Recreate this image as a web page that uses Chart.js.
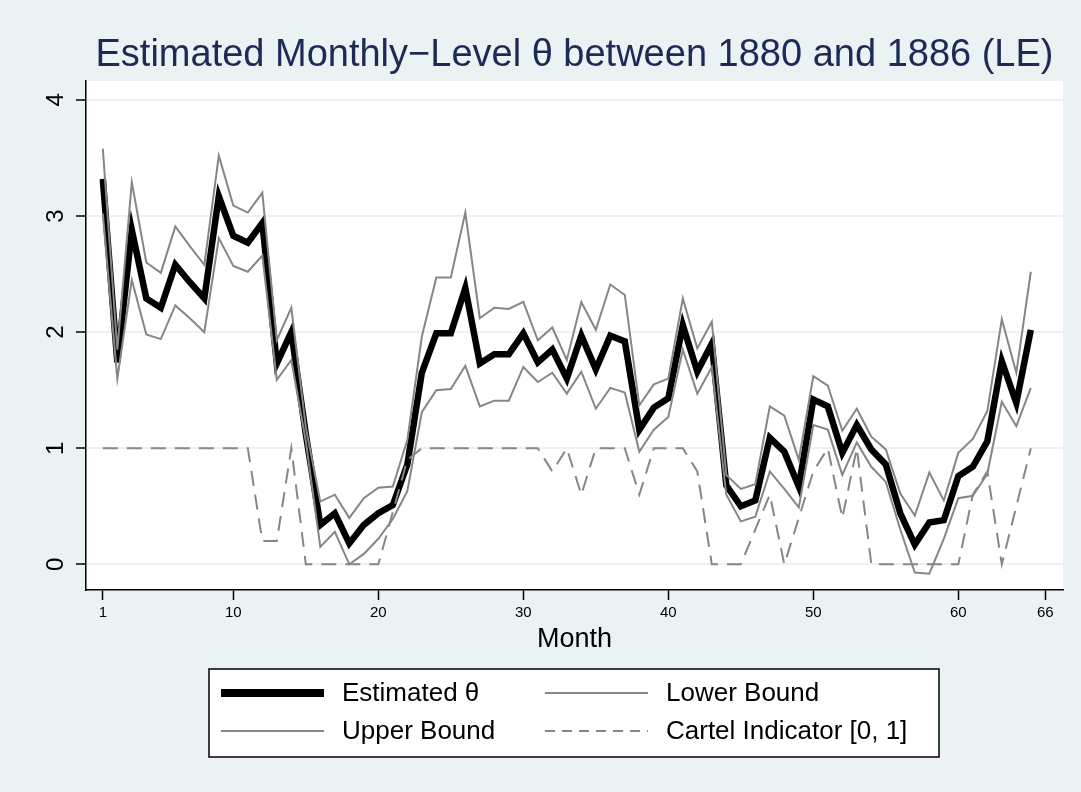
<!DOCTYPE html>
<html>
<head>
<meta charset="utf-8">
<script src="https://cdn.jsdelivr.net/npm/chart.js@4.4.1/dist/chart.umd.min.js"></script>
<style>
  html, body { margin: 0; padding: 0; background: #eaf2f3; }
  #wrap { width: 1081px; height: 792px; }
</style>
</head>
<body>
<div id="wrap"><canvas id="chart" width="1081" height="792"></canvas></div>
<script>
// MONTHS (x categories)
const months = [
  1, 2, 3, 4, 5, 6, 7, 8, 9, 10, 11, 12, 13, 14, 15, 16, 17, 18, 19, 20,
  21, 22, 23, 24, 25, 26, 27, 28, 29, 30, 31, 32, 33, 34, 35, 36, 37, 38, 39, 40,
  41, 42, 43, 44, 45, 46, 47, 48, 49, 50, 51, 52, 53, 54, 55, 56, 57, 58, 59, 60,
  61, 62, 63, 64, 65,
];

// SERIES
const estTheta = [
  3.32, 1.74, 2.88, 2.29, 2.21, 2.58, 2.43, 2.29, 3.17, 2.83, 2.77, 2.94, 1.73, 2.0, 1.12, 0.34, 0.44, 0.18, 0.34, 0.44,
  0.51, 0.86, 1.65, 1.99, 1.99, 2.38, 1.73, 1.81, 1.81, 1.99, 1.74, 1.85, 1.6, 1.97, 1.68, 1.97, 1.92, 1.16, 1.35, 1.43,
  2.06, 1.66, 1.9, 0.68, 0.5, 0.55, 1.09, 0.97, 0.67, 1.42, 1.36, 0.96, 1.2, 0.99, 0.86, 0.44, 0.17, 0.36, 0.38, 0.76,
  0.84, 1.06, 1.75, 1.39, 2.02,
];
const lowerBound = [
  3.02, 1.6, 2.45, 1.98, 1.94, 2.23, 2.12, 2.0, 2.81, 2.57, 2.52, 2.66, 1.59, 1.76, 1.06, 0.15, 0.28, 0.0, 0.09, 0.22,
  0.39, 0.63, 1.31, 1.5, 1.51, 1.71, 1.36, 1.41, 1.41, 1.7, 1.57, 1.65, 1.47, 1.66, 1.34, 1.52, 1.48, 0.97, 1.16, 1.27,
  1.85, 1.47, 1.7, 0.6, 0.37, 0.41, 0.8, 0.65, 0.49, 1.2, 1.16, 0.77, 1.05, 0.84, 0.71, 0.3, -0.07, -0.08, 0.22, 0.57,
  0.59, 0.78, 1.4, 1.19, 1.52,
];
const upperBound = [
  3.58, 1.85, 3.29, 2.6, 2.51, 2.91, 2.74, 2.58, 3.52, 3.09, 3.03, 3.2, 1.93, 2.21, 1.18, 0.54, 0.6, 0.4, 0.57, 0.66,
  0.67, 1.07, 1.96, 2.47, 2.47, 3.03, 2.12, 2.21, 2.2, 2.26, 1.93, 2.04, 1.76, 2.26, 2.02, 2.41, 2.32, 1.37, 1.55, 1.6,
  2.29, 1.86, 2.09, 0.77, 0.65, 0.69, 1.36, 1.28, 0.9, 1.62, 1.54, 1.15, 1.34, 1.1, 0.99, 0.61, 0.42, 0.79, 0.55, 0.96,
  1.08, 1.32, 2.11, 1.65, 2.52,
];
const cartel = [
  1, 1, 1, 1, 1, 1, 1, 1, 1, 1, 1, 0.2, 0.2, 1, 0, 0, 0, 0, 0, 0,
  0.45, 0.9, 1, 1, 1, 1, 1, 1, 1, 1, 1, 0.8, 1, 0.6, 1, 1, 1, 0.6, 1, 1,
  1, 0.8, 0, 0, 0, 0.3, 0.6, 0, 0.4, 0.8, 1, 0.4, 1, 0, 0, 0, 0, 0, 0, 0,
  0.6, 0.8, 0, 0.5, 1,
];

// TICKS
const xTicks = [1, 10, 20, 30, 40, 50, 60, 66];
const yTicks = [0, 1, 2, 3, 4];

const FONT = "'Liberation Sans', Arial, Helvetica, sans-serif";
const BG = "#eaf2f3";
const GRAY = "#868686";

function toPoints(values) {
  return values.map((v, i) => ({ x: months[i], y: v }));
}

/* PLUGIN: backgrounds, title, rotated y labels, axis title, legend box */
const stataFrame = {
  id: "stataFrame",
  beforeDraw(chart) {
    const { ctx, chartArea: a } = chart;
    ctx.save();
    ctx.fillStyle = BG;
    ctx.fillRect(0, 0, chart.width, chart.height);
    ctx.fillStyle = "#ffffff";
    ctx.fillRect(a.left, a.top, a.right - a.left, a.bottom - a.top);
    ctx.restore();
  },
  afterDraw(chart) {
    const { ctx, chartArea: a } = chart;
    const yScale = chart.scales.y;
    const midX = (a.left + a.right) / 2;
    ctx.save();

    // title
    ctx.fillStyle = "#1c2a55";
    ctx.font = `38px ${FONT}`;
    ctx.textAlign = "center";
    ctx.textBaseline = "alphabetic";
    ctx.fillText("Estimated Monthly\u2212Level \u03b8 between 1880 and 1886 (LE)", midX, 66);

    // y tick labels, rotated
    ctx.fillStyle = "#000";
    ctx.font = `24px ${FONT}`;
    ctx.textBaseline = "middle";
    yTicks.forEach((v) => {
      ctx.save();
      ctx.translate(56, yScale.getPixelForValue(v));
      ctx.rotate(-Math.PI / 2);
      ctx.fillText(String(v), 0, 0);
      ctx.restore();
    });

    // x axis title
    ctx.font = `27px ${FONT}`;
    ctx.textBaseline = "alphabetic";
    ctx.fillText("Month", midX, 647);

    // legend box
    ctx.fillStyle = "#ffffff";
    ctx.fillRect(209, 669, 730, 88);
    ctx.strokeStyle = "#000";
    ctx.lineWidth = 1.5;
    ctx.strokeRect(209, 669, 730, 88);

    const slots = [
      [221, 693],
      [545, 693],
      [221, 731],
      [545, 731],
    ];
    ctx.font = `26px ${FONT}`;
    ctx.textAlign = "left";
    ctx.textBaseline = "middle";
    chart.data.datasets.forEach((ds, i) => {
      const [x, y] = slots[i];
      ctx.strokeStyle = ds.borderColor;
      ctx.lineWidth = i === 0 ? 8 : ds.borderWidth;
      ctx.setLineDash(ds.borderDash ? [10, 7] : []);
      ctx.beginPath();
      ctx.moveTo(x, y);
      ctx.lineTo(x + 103, y);
      ctx.stroke();
      ctx.setLineDash([]);
      ctx.fillStyle = "#000";
      ctx.fillText(ds.label, x + 121, y + 1);
    });
    ctx.restore();
  },
};

const chart = new Chart(document.getElementById("chart"), {
  type: "line",
  data: {
    datasets: [
      {
        label: "Estimated \u03b8",
        data: toPoints(estTheta),
        borderColor: "#000000",
        borderWidth: 6.5,
        pointRadius: 0,
        order: 4,
      },
      {
        label: "Lower Bound",
        data: toPoints(lowerBound),
        borderColor: GRAY,
        borderWidth: 2,
        pointRadius: 0,
        order: 3,
      },
      {
        label: "Upper Bound",
        data: toPoints(upperBound),
        borderColor: GRAY,
        borderWidth: 2,
        pointRadius: 0,
        order: 2,
      },
      {
        label: "Cartel Indicator [0, 1]",
        data: toPoints(cartel),
        borderColor: GRAY,
        borderWidth: 2,
        borderDash: [15, 9],
        pointRadius: 0,
        order: 1,
      },
    ],
  },
  options: {
    responsive: false,
    animation: false,
    devicePixelRatio: 1,
    layout: { padding: { left: 0, right: 18, top: 81, bottom: 0 } },
    plugins: {
      legend: { display: false },
      title: { display: false },
      tooltip: { enabled: false },
    },
    scales: {
      x: {
        type: "linear",
        min: -0.16,
        max: 67.22,
        afterBuildTicks: (scale) => {
          scale.ticks = xTicks.map((v) => ({ value: v }));
        },
        afterFit: (scale) => {
          scale.height = 202;
        },
        grid: {
          drawOnChartArea: false,
          drawTicks: true,
          tickLength: 10,
          tickColor: "#000",
          tickWidth: 1.5,
        },
        border: { display: true, color: "#000", width: 1.5 },
        ticks: {
          autoSkip: false,
          maxRotation: 0,
          minRotation: 0,
          padding: 4,
          color: "#000",
          font: { family: FONT, size: 15 },
        },
      },
      y: {
        type: "linear",
        min: -0.221,
        max: 4.163,
        afterBuildTicks: (scale) => {
          scale.ticks = yTicks.map((v) => ({ value: v }));
        },
        afterFit: (scale) => {
          scale.width = 86;
        },
        grid: {
          color: BG,
          lineWidth: 2,
          drawTicks: true,
          tickLength: 10,
          tickColor: "#000",
          tickWidth: 1.5,
        },
        border: { display: true, color: "#000", width: 1.5 },
        ticks: { display: false },
      },
    },
  },
  plugins: [stataFrame],
});
</script>
</body>
</html>
